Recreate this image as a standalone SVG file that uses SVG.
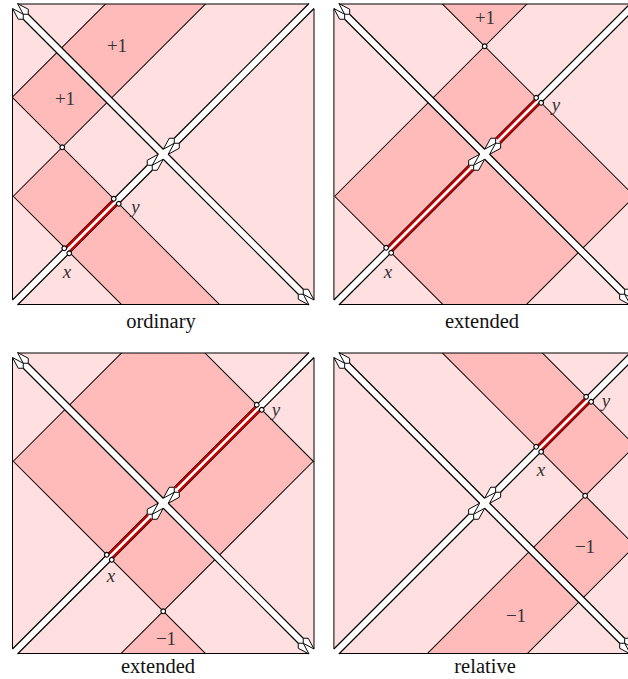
<svg xmlns="http://www.w3.org/2000/svg" xmlns:xlink="http://www.w3.org/1999/xlink" width="628" height="679" viewBox="0 0 628 679">
<style>
.bg{fill:#ffdfdf}
.dk{fill:#ffbaba}
.ln{stroke:#000;stroke-width:1.4;fill:none}
.ed{stroke:#000;stroke-width:1;fill:none}
.bd{stroke:#000;stroke-width:1.7;fill:none}
.wh{fill:#fff;stroke:none}
.kt{fill:#fff;stroke:#000;stroke-width:1.3;stroke-linejoin:miter}
.rd{stroke:#c80000;stroke-width:3.2;fill:none}
.nd{fill:#fff;stroke:#000;stroke-width:1.4}
text{font-family:"Liberation Serif",serif;fill:#333;text-anchor:middle}
.m{font-size:19px}
.i{font-size:19px;font-style:italic}
.c{font-size:20.5px;fill:#111}
</style>
<defs>
<clipPath id="sq"><rect x="-150.75" y="-150.25" width="301.5" height="300.5"/></clipPath>
<g id="frame">
<polygon class="wh" points="-302,-5 302,-5 302,5 -302,5"/>
<polygon class="wh" points="-5,-302 5,-302 5,302 -5,302"/>
<path class="bd" d="M-275,-5H-5M5,-5H275M-275,5H-5M5,5H275"/>
<path class="bd" d="M-5,-296.5V-27M5,-296.5V-27M-5,27V296.5M5,27V296.5"/>
<path class="kt" d="M-296.5,-5L-280,-10L-275,-5L-280,0ZM-296.5,5L-280,10L-275,5L-280,0Z"/>
<path class="kt" d="M296.5,-5L280,-10L275,-5L280,0ZM296.5,5L280,10L275,5L280,0Z"/>
<path class="kt" d="M-5,-5L-10,-22L-5,-27L0,-22ZM5,-5L10,-22L5,-27L0,-22Z"/>
<path class="kt" d="M-5,5L-10,22L-5,27L0,22ZM5,5L10,22L5,27L0,22Z"/>
</g>
<path id="edges" class="ed" d="M-150.75,-145.5V145.5M-146,150.25H146M-146,-150.25H146M150.75,-145.5V145.5"/>
<rect id="paper" class="bg" x="-150.75" y="-150.25" width="301.5" height="300.5"/>
</defs>

<g id="panel-ordinary" transform="translate(163.25,154.25)">
<use xlink:href="#paper" href="#paper"/>
<g clip-path="url(#sq)"><g transform="matrix(.5 .5 -.5 .5 0 0)">
<polygon class="dk" points="-208,-400 -108,-400 -108,94 -208,94"/>
<polygon class="dk" points="-108,94 400,94 400,192 -108,192"/>
<path class="ln" d="M-208,-400V94M-108,-400V192M-208,94H400M-108,192H400"/>
</g></g>
<use xlink:href="#edges" href="#edges"/>
<g transform="matrix(.5 .5 -.5 .5 0 0)">
<use xlink:href="#frame" href="#frame"/>
<path class="rd" d="M-3.4,94V193M3.4,94V193"/>
<circle class="nd" cx="-5" cy="94" r="3.2"/><circle class="nd" cx="5" cy="94" r="3.2"/>
<circle class="nd" cx="-5" cy="193" r="3.2"/><circle class="nd" cx="5" cy="193" r="3.2"/>
<circle class="nd" cx="-108" cy="94" r="3.2"/>
</g>
</g>
<text class="m" x="117" y="52">+1</text>
<text class="m" x="65" y="105">+1</text>
<text class="i" x="67" y="278">x</text>
<text class="i" x="135.5" y="213">y</text>
<text class="c" x="161" y="328">ordinary</text>

<g id="panel-extended-a" transform="translate(484.65,154.25)">
<use xlink:href="#paper" href="#paper"/>
<g clip-path="url(#sq)"><g transform="matrix(.5 .5 -.5 .5 0 0)">
<polygon class="dk" points="-400,-400 -108,-400 -108,-108 -400,-108"/>
<polygon class="dk" points="-108,-108 192,-108 192,192 -108,192"/>
<path class="ln" d="M-108,-400V192M192,-400V192M-400,-108H192M-108,192H400"/>
</g></g>
<use xlink:href="#edges" href="#edges"/>
<g transform="matrix(.5 .5 -.5 .5 0 0)">
<use xlink:href="#frame" href="#frame"/>
<path class="rd" d="M-3.4,-108V-27M3.4,-108V-27M-3.4,27V192M3.4,27V192"/>
<circle class="nd" cx="-5" cy="-108" r="3.2"/><circle class="nd" cx="5" cy="-108" r="3.2"/>
<circle class="nd" cx="-5" cy="192" r="3.2"/><circle class="nd" cx="5" cy="192" r="3.2"/>
<circle class="nd" cx="-108" cy="-108" r="3.2"/>
</g>
</g>
<text class="m" x="485" y="24">+1</text>
<text class="i" x="556" y="111">y</text>
<text class="i" x="388" y="278">x</text>
<text class="c" x="482" y="328">extended</text>

<g id="panel-extended-b" transform="translate(163.25,503.25)">
<use xlink:href="#paper" href="#paper"/>
<g clip-path="url(#sq)"><g transform="matrix(.5 .5 -.5 .5 0 0)">
<polygon class="dk" points="108,108 400,108 400,400 108,400"/>
<polygon class="dk" points="-192,-192 108,-192 108,108 -192,108"/>
<path class="ln" d="M-192,-400V108M108,-192V400M-192,-192H400M-192,108H400"/>
</g></g>
<use xlink:href="#edges" href="#edges"/>
<g transform="matrix(.5 .5 -.5 .5 0 0)">
<use xlink:href="#frame" href="#frame"/>
<path class="rd" d="M-3.4,-192V-27M3.4,-192V-27M-3.4,27V108M3.4,27V108"/>
<circle class="nd" cx="-5" cy="-192" r="3.2"/><circle class="nd" cx="5" cy="-192" r="3.2"/>
<circle class="nd" cx="-5" cy="108" r="3.2"/><circle class="nd" cx="5" cy="108" r="3.2"/>
<circle class="nd" cx="108" cy="108" r="3.2"/>
</g>
</g>
<text class="i" x="276" y="416">y</text>
<text class="i" x="111" y="582">x</text>
<text class="m" x="166" y="645">−1</text>
<text class="c" x="158" y="673">extended</text>

<g id="panel-relative" transform="translate(484.65,503.25)">
<use xlink:href="#paper" href="#paper"/>
<g clip-path="url(#sq)"><g transform="matrix(.5 .5 -.5 .5 0 0)">
<polygon class="dk" points="-400,-208 93,-208 93,-108 -400,-108"/>
<polygon class="dk" points="93,-108 193,-108 193,400 93,400"/>
<path class="ln" d="M-400,-208H93M-400,-108H193M93,-208V400M193,-108V400"/>
</g></g>
<use xlink:href="#edges" href="#edges"/>
<g transform="matrix(.5 .5 -.5 .5 0 0)">
<use xlink:href="#frame" href="#frame"/>
<path class="rd" d="M-3.4,-208V-108M3.4,-208V-108"/>
<circle class="nd" cx="-5" cy="-108" r="3.2"/><circle class="nd" cx="5" cy="-108" r="3.2"/>
<circle class="nd" cx="-5" cy="-208" r="3.2"/><circle class="nd" cx="5" cy="-208" r="3.2"/>
<circle class="nd" cx="93" cy="-108" r="3.2"/>
</g>
</g>
<text class="i" x="606" y="407">y</text>
<text class="i" x="541" y="476">x</text>
<text class="m" x="585" y="553">−1</text>
<text class="m" x="516" y="622">−1</text>
<text class="c" x="485" y="673">relative</text>
</svg>
